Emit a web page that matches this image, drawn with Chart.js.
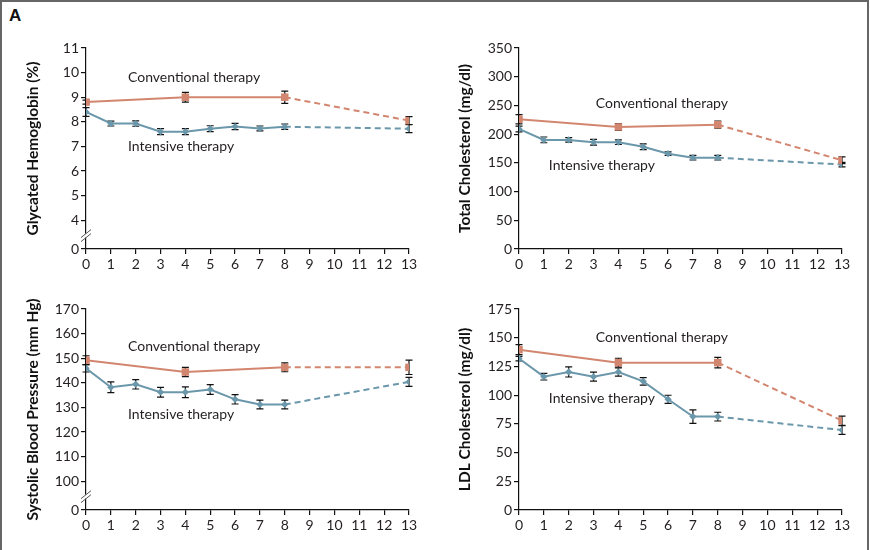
<!DOCTYPE html>
<html>
<head>
<meta charset="utf-8">
<script src="https://cdn.jsdelivr.net/npm/chart.js@4"></script>
<style>
  body { margin: 0; background: #fff; }
  #frame {
    position: absolute; left: 0; top: 0; width: 865px; height: 560px;
    border: 2px solid #666; border-bottom: none;
  }
  #tag { position: absolute; left: 9px; top: 6px; font: bold 17px "Liberation Sans", sans-serif; color: #111; }
  .panel { position: absolute; width: 435px; height: 275px; }
</style>
</head>
<body>
<div id="frame"></div>
<div id="tag">A</div>
<div class="panel" style="left:0;top:0"><canvas id="hb"></canvas></div>
<div class="panel" style="left:435px;top:0"><canvas id="tc"></canvas></div>
<div class="panel" style="left:0;top:275px"><canvas id="sbp"></canvas></div>
<div class="panel" style="left:435px;top:275px"><canvas id="ldl"></canvas></div>
<script>
// years of follow-up
const intYears = [0, 1, 2, 3, 4, 5, 6, 7, 8, 13];
const convYears = [0, 4, 8, 13];
const xTicks = [0, 1, 2, 3, 4, 5, 6, 7, 8, 9, 10, 11, 12, 13];

// glycated hemoglobin (%)
const hbConv = [8.8, 9.0, 9.0, 8.05];
const hbConvErr = [0.08, 0.2, 0.25, 0.16];
const hbInt = [8.4, 7.93, 7.93, 7.6, 7.6, 7.72, 7.81, 7.73, 7.8, 7.72];
const hbIntErr = [0.18, 0.1, 0.11, 0.12, 0.12, 0.12, 0.13, 0.1, 0.11, 0.16];
const hbTicks = [4, 5, 6, 7, 8, 9, 10, 11];

// total cholesterol (mg/dl)
const tcConv = [226, 212.5, 216.5, 154.5];
const tcConvErr = [8, 6, 6, 6];
const tcInt = [209, 190, 190, 186, 186, 178, 166, 159, 159, 147];
const tcIntErr = [5, 5, 4, 5, 4, 5, 3, 4, 4, 4];
const tcTicks = [0, 50, 100, 150, 200, 250, 300, 350];

// systolic blood pressure (mm Hg)
const sbpConv = [149.2, 144.4, 146.3, 146.3];
const sbpConvErr = [1.8, 1.9, 1.8, 2.9];
const sbpInt = [145.9, 138.2, 139.4, 136.2, 136.2, 137.3, 133.3, 131.2, 131.2, 140.4];
const sbpIntErr = [1.5, 2.2, 1.9, 2, 2.2, 2, 1.9, 1.8, 1.8, 1.8];
const sbpTicks = [100, 110, 120, 130, 140, 150, 160, 170];

// LDL cholesterol (mg/dl)
const ldlConv = [139.6, 128.3, 128.3, 77.8];
const ldlConvErr = [4.4, 3.8, 4.6, 4];
const ldlInt = [131.8, 116.1, 120.2, 116.1, 120.2, 112, 96.4, 81.3, 81.3, 69.6];
const ldlIntErr = [2, 2.9, 4.4, 3.9, 3.6, 3.2, 3.5, 5.8, 3.8, 3.8];
const ldlTicks = [0, 25, 50, 75, 100, 125, 150, 175];

const convColor = "#d3866f";
const intColor = "#6b97ab";
const ink = "#231f20";

Chart.defaults.font.family = "Lato";
Chart.defaults.color = ink;

const errorBars = {
  id: "errorBars",
  beforeDatasetsDraw(chart) {
    const ctx = chart.ctx;
    const y = chart.scales.y;
    ctx.save();
    ctx.strokeStyle = "#111";
    ctx.lineWidth = 1.2;
    chart.data.datasets.forEach((ds, i) => {
      const meta = chart.getDatasetMeta(i);
      meta.data.forEach((pt, j) => {
        const v = ds.data[j].y, e = ds.errors[j];
        const top = y.getPixelForValue(v + e);
        const bot = y.getPixelForValue(v - e);
        ctx.beginPath();
        ctx.moveTo(pt.x, top); ctx.lineTo(pt.x, bot);
        ctx.moveTo(pt.x - 3.5, top); ctx.lineTo(pt.x + 3.5, top);
        ctx.moveTo(pt.x - 3.5, bot); ctx.lineTo(pt.x + 3.5, bot);
        ctx.stroke();
      });
    });
    ctx.restore();
  },
};

const notes = {
  id: "notes",
  afterDraw(chart, args, opts) {
    const ctx = chart.ctx;
    ctx.save();
    ctx.font = '14px "Lato"';
    ctx.fillStyle = ink;
    ctx.textBaseline = "middle";
    (opts.items || []).forEach((n) => {
      ctx.fillText(n.text, chart.scales.x.getPixelForValue(n.x), chart.scales.y.getPixelForValue(n.y));
    });
    ctx.restore();
  },
};

const axisBreak = {
  id: "axisBreak",
  afterDraw(chart, args, opts) {
    if (!opts.from) return;
    const ctx = chart.ctx;
    const y = chart.scales.y;
    const x0 = chart.chartArea.left;
    const yc = (y.getPixelForValue(y.min) + y.getPixelForValue(opts.from)) / 2 + 1;
    ctx.save();
    ctx.fillStyle = "#fff";
    ctx.fillRect(x0 - 2, yc - 2, 4, 4);
    ctx.strokeStyle = "#555";
    ctx.lineWidth = 1;
    [-2, 2].forEach((d) => {
      ctx.beginPath();
      ctx.moveTo(x0 - 5, yc + d + 4);
      ctx.lineTo(x0 + 5, yc + d - 4);
      ctx.stroke();
    });
    ctx.restore();
  },
};

function series(xs, ys) {
  return ys.map((v, i) => ({ x: xs[i], y: v }));
}

function makePanel(id, p) {
  const dash = (c) => (c.p0.parsed.x >= 8 ? [6, 4] : undefined);
  new Chart(document.getElementById(id), {
    type: "line",
    data: {
      datasets: [
        {
          data: series(convYears, p.conv), errors: p.convErr,
          borderColor: convColor, backgroundColor: convColor, borderWidth: 2,
          pointStyle: "rect", pointRadius: 5.3, pointBorderWidth: 0,
          segment: { borderDash: dash },
        },
        {
          data: series(intYears, p.int), errors: p.intErr,
          borderColor: intColor, backgroundColor: intColor, borderWidth: 2,
          pointStyle: "rectRot", pointRadius: 3.6, pointBorderWidth: 0,
          segment: { borderDash: dash },
        },
      ],
    },
    options: {
      responsive: false,
      animation: false,
      layout: { padding: { top: p.top, right: p.right, left: 0, bottom: 0 } },
      plugins: {
        legend: { display: false },
        tooltip: { enabled: false },
        notes: { items: p.notes },
        axisBreak: { from: p.breakFrom },
      },
      scales: {
        x: {
          type: "linear", min: 0, max: 13,
          afterFit: (s) => { s.height = p.xh; },
          afterBuildTicks: (s) => { s.ticks = xTicks.map((v) => ({ value: v })); },
          grid: { drawOnChartArea: false, tickLength: 5, color: "#111", lineWidth: 1.2 },
          border: { color: "#111", width: 1.2 },
          ticks: { autoSkip: false, maxRotation: 0, padding: 2, font: { size: 14 }, color: ink },
        },
        y: {
          type: "linear", min: p.yMin, max: p.yMax,
          afterFit: (s) => { s.width = p.yw; },
          afterBuildTicks: (s) => { s.ticks = p.yTicks.map((v) => ({ value: v })); },
          grid: { drawOnChartArea: false, tickLength: 5, color: "#111", lineWidth: 1.2 },
          border: { color: "#111", width: 1.2 },
          ticks: {
            padding: 2, font: { size: 14 }, color: ink,
            callback: (v) => (v === p.yMin && p.breakFrom ? "0" : String(v)),
          },
          title: {
            display: true, text: p.title, color: "#111",
            font: { size: 15.5, weight: "bold" }, padding: { top: p.tpad, bottom: 0 },
          },
        },
      },
    },
    plugins: [errorBars, notes, axisBreak],
  });
}

for (const c of document.querySelectorAll("canvas")) { c.width = 435; c.height = 275; }

const hbMin = 2.83;
makePanel("hb", {
  conv: hbConv, convErr: hbConvErr, int: hbInt, intErr: hbIntErr,
  yMin: hbMin, yMax: 11, yTicks: [hbMin, ...hbTicks], breakFrom: 4,
  title: "Glycated Hemoglobin (%)",
  top: 48, right: 26, xh: 26, yw: 86, tpad: 24,
  notes: [{ text: "Conventional therapy", x: 1.69, y: 9.79 }, { text: "Intensive therapy", x: 1.69, y: 6.98 }],
});
makePanel("tc", {
  conv: tcConv, convErr: tcConvErr, int: tcInt, intErr: tcIntErr,
  yMin: 0, yMax: 350, yTicks: tcTicks,
  title: "Total Cholesterol (mg/dl)",
  top: 48, right: 28, xh: 26, yw: 84, tpad: 21,
  notes: [{ text: "Conventional therapy", x: 3.09, y: 252.6 }, { text: "Intensive therapy", x: 1.2, y: 146 }],
});
const sbpMin = 88.35;
makePanel("sbp", {
  conv: sbpConv, convErr: sbpConvErr, int: sbpInt, intErr: sbpIntErr,
  yMin: sbpMin, yMax: 170, yTicks: [sbpMin, ...sbpTicks], breakFrom: 100,
  title: "Systolic Blood Pressure (mm Hg)",
  top: 34, right: 26, xh: 40, yw: 86, tpad: 24,
  notes: [{ text: "Conventional therapy", x: 1.69, y: 154.7 }, { text: "Intensive therapy", x: 1.69, y: 127.1 }],
});
makePanel("ldl", {
  conv: ldlConv, convErr: ldlConvErr, int: ldlInt, intErr: ldlIntErr,
  yMin: 0, yMax: 175, yTicks: ldlTicks,
  title: "LDL Cholesterol (mg/dl)",
  top: 34, right: 28, xh: 40, yw: 84, tpad: 21,
  notes: [{ text: "Conventional therapy", x: 3.09, y: 150.6 }, { text: "Intensive therapy", x: 1.2, y: 97.2 }],
});
</script>
</body>
</html>
